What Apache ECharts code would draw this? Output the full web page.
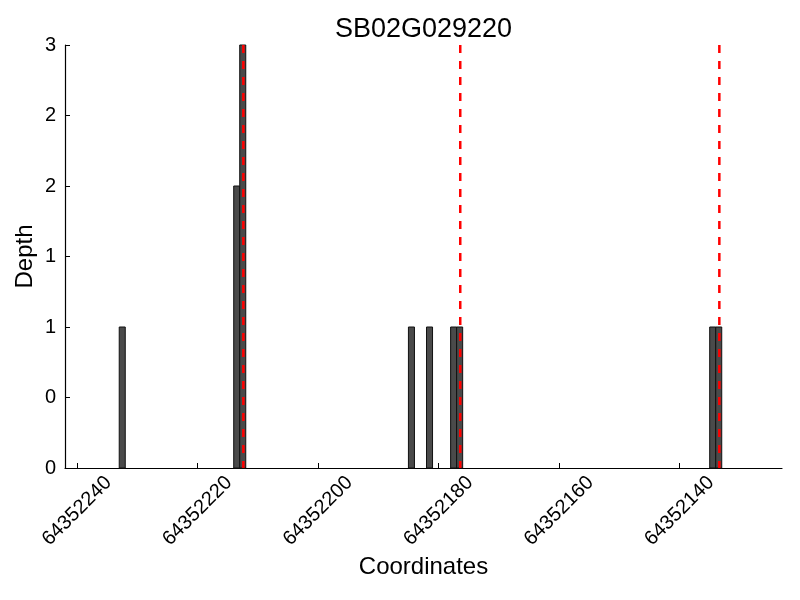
<!DOCTYPE html>
<html><head><meta charset="utf-8">
<script src="https://cdn.jsdelivr.net/npm/echarts@6/dist/echarts.min.js"></script>
<style>html,body{margin:0;padding:0;background:#fff}#c{width:800px;height:600px}</style>
</head><body><div id="c"></div>
<script>
// ---- data ----
const chartTitle = 'SB02G029220';
const binStarts = [64352232, 64352213, 64352212, 64352184, 64352181, 64352177, 64352176, 64352134, 64352133];
const depths = [1, 2, 3, 1, 1, 1, 1, 1, 1];
const binWidth = 1;
const markerPositions = [64352212.4, 64352176.4, 64352133.4];
const xTickValues = [64352240, 64352220, 64352200, 64352180, 64352160, 64352140];
const xRange = [64352123, 64352242];
const yRange = [0, 3];
const yStep = 0.5;

// ---- chart ----
const FONT = 'Liberation Sans';
const chart = echarts.init(document.getElementById('c'), null, {renderer: 'canvas'});
const barData = binStarts.map((s, i) => [s, depths[i], s + binWidth]);
const lineData = markerPositions.map(p => [p, yRange[1]]);

chart.setOption({
  animation: false,
  backgroundColor: '#fff',
  title: {
    text: chartTitle,
    left: 418.5,
    top: 11,
    textAlign: 'center',
    textStyle: {fontFamily: FONT, fontSize: 27, fontWeight: 'normal', color: '#000'}
  },
  grid: {left: 65, right: 18, top: 45, bottom: 132, containLabel: false},
  xAxis: {
    type: 'value',
    inverse: true,
    min: xRange[0],
    max: xRange[1],
    name: 'Coordinates',
    nameLocation: 'middle',
    nameGap: 87,
    nameMoveOverlap: false,
    nameTextStyle: {fontFamily: FONT, fontSize: 24, color: '#000'},
    axisLine: {show: true, onZero: false, lineStyle: {color: '#000', width: 1.2}},
    axisTick: {show: true, inside: true, length: 5, customValues: xTickValues, lineStyle: {color: '#000', width: 1}},
    axisLabel: {
      customValues: xTickValues,
      formatter: v => String(v),
      rotate: 45, align: 'center', verticalAlign: 'middle', margin: 43,
      fontFamily: FONT, fontSize: 20, color: '#000'
    },
    splitLine: {show: false}
  },
  yAxis: {
    type: 'value',
    min: yRange[0],
    max: yRange[1],
    interval: yStep,
    name: 'Depth',
    nameLocation: 'middle',
    nameGap: 28,
    nameMoveOverlap: false,
    nameTextStyle: {fontFamily: FONT, fontSize: 24, color: '#000'},
    axisLine: {show: true, onZero: false, lineStyle: {color: '#000', width: 1.2}},
    axisTick: {show: true, inside: true, length: 5, lineStyle: {color: '#000', width: 1}},
    axisLabel: {
      formatter: v => String(Math.floor(v)),
      margin: 9,
      fontFamily: FONT, fontSize: 20, color: '#000'
    },
    splitLine: {show: false}
  },
  series: [
    {
      type: 'custom',
      name: 'depth',
      data: barData,
      encode: {x: [0, 2], y: 1},
      renderItem: function (params, api) {
        const a = api.coord([api.value(0), api.value(1)]);
        const b = api.coord([api.value(2), 0]);
        return {
          type: 'rect',
          shape: {x: Math.min(a[0], b[0]), y: Math.min(a[1], b[1]), width: Math.abs(b[0] - a[0]), height: Math.abs(b[1] - a[1])},
          style: {fill: '#4a4a4a', stroke: '#111', lineWidth: 1}
        };
      },
      z: 2
    },
    {
      type: 'custom',
      name: 'markers',
      data: lineData,
      encode: {x: 0, y: 1},
      renderItem: function (params, api) {
        const top = api.coord([api.value(0), api.value(1)]);
        const bot = api.coord([api.value(0), 0]);
        return {
          type: 'line',
          shape: {x1: top[0], y1: top[1], x2: bot[0], y2: bot[1]},
          style: {stroke: '#ff0000', lineWidth: 2.5, lineDash: [8, 8]}
        };
      },
      z: 3
    }
  ]
});
</script>
</body></html>
